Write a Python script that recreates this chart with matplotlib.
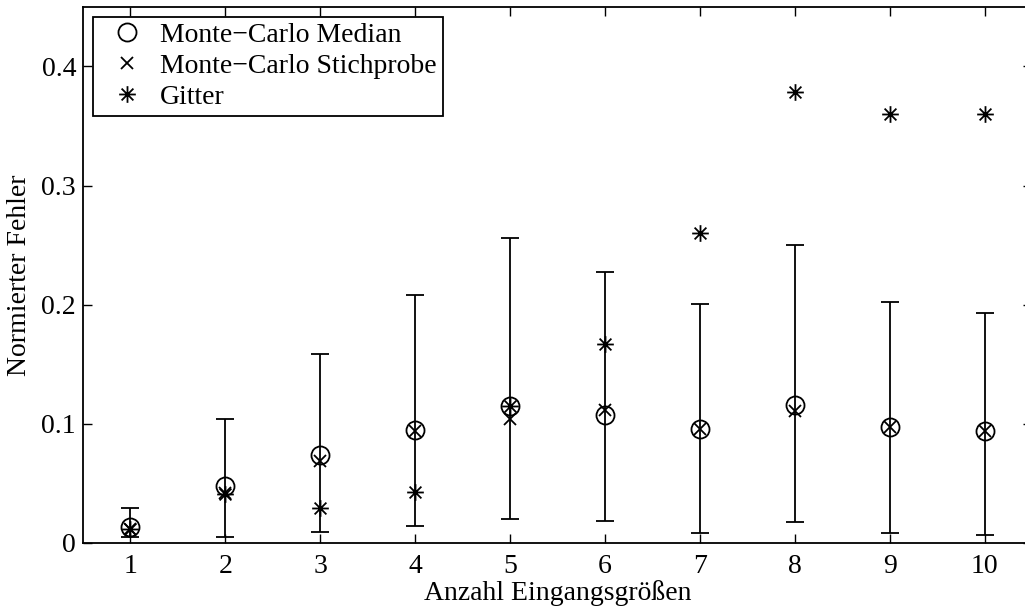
import matplotlib
matplotlib.use("Agg")
import matplotlib.pyplot as plt
import numpy as np
from matplotlib.path import Path

plt.rcParams['font.family'] = ['Liberation Serif', 'DejaVu Serif']
plt.rcParams['mathtext.fontset'] = 'stix'

# number of input quantities
n_inputs = [1, 2, 3, 4, 5, 6, 7, 8, 9, 10]

# Monte-Carlo median and spread (lower / upper bound of the sample)
mc_median = [0.013, 0.048, 0.074, 0.095, 0.115, 0.107, 0.096, 0.116, 0.097, 0.094]
mc_low = [0.005, 0.005, 0.0095, 0.014, 0.020, 0.0185, 0.008, 0.018, 0.0085, 0.0063]
mc_high = [0.029, 0.104, 0.159, 0.2085, 0.256, 0.2275, 0.201, 0.250, 0.202, 0.193]

# single Monte-Carlo sample
mc_sample = [0.012, 0.042, 0.069, 0.094, 0.104, 0.112, 0.096, 0.111, 0.097, 0.094]

# grid method
grid = [0.012, 0.041, 0.029, 0.043, 0.115, 0.167, 0.260, 0.379, 0.360, 0.360]

x = np.array(n_inputs)
med = np.array(mc_median)
yerr = [med - np.array(mc_low), np.array(mc_high) - med]

# MATLAB style asterisk: four crossing strokes
d = np.sqrt(0.5)
star = Path([(-1, 0), (1, 0), (0, -1), (0, 1), (-d, -d), (d, d), (-d, d), (d, -d)],
            [Path.MOVETO, Path.LINETO] * 4)

fig = plt.figure(figsize=(10.25, 6.08), dpi=100)
ax = fig.add_axes([0.081, 0.107, 0.926, 0.8816])

ax.errorbar(x, med, yerr=yerr, fmt='none', ecolor='k', elinewidth=1.3,
            capsize=6.5, capthick=1.3)
ax.plot(x, med, 'o', ms=13, mfc='none', mec='k', mew=1.3, label='Monte\u2212Carlo Median')
ax.plot(x, mc_sample, 'x', ms=9, mec='k', mew=1.3, label='Monte\u2212Carlo Stichprobe')
ax.plot(x, grid, ls='none', marker=star, ms=12, mec='k', mew=1.3, label='Gitter')

ax.set_xlim(0.5, 10.5)
ax.set_ylim(0, 0.45)
ax.set_xticks(n_inputs)
ax.set_yticks([0, 0.1, 0.2, 0.3, 0.4], labels=['0', '0.1', '0.2', '0.3', '0.4'])
ax.tick_params(direction='in', length=6.5, width=1, top=True, right=True,
               labelsize=20, pad=5)
ax.tick_params(axis='x', pad=8)
for s in ax.spines.values():
    s.set_linewidth(1.3)

ax.set_xlabel('Anzahl Eingangsgrößen', fontsize=20, labelpad=1)
ax.set_ylabel('Normierter Fehler', fontsize=20, labelpad=7)

leg = ax.legend(loc='upper left', fontsize=20, frameon=True, fancybox=False,
                edgecolor='k', borderpad=0.22, labelspacing=0.2,
                handlelength=2.0, handletextpad=0.2, borderaxespad=0.35,
                bbox_to_anchor=(0.0, 1.0))
leg.get_frame().set_linewidth(1.3)
leg.get_frame().set_alpha(1)

fig.savefig('out.png', dpi=100)
